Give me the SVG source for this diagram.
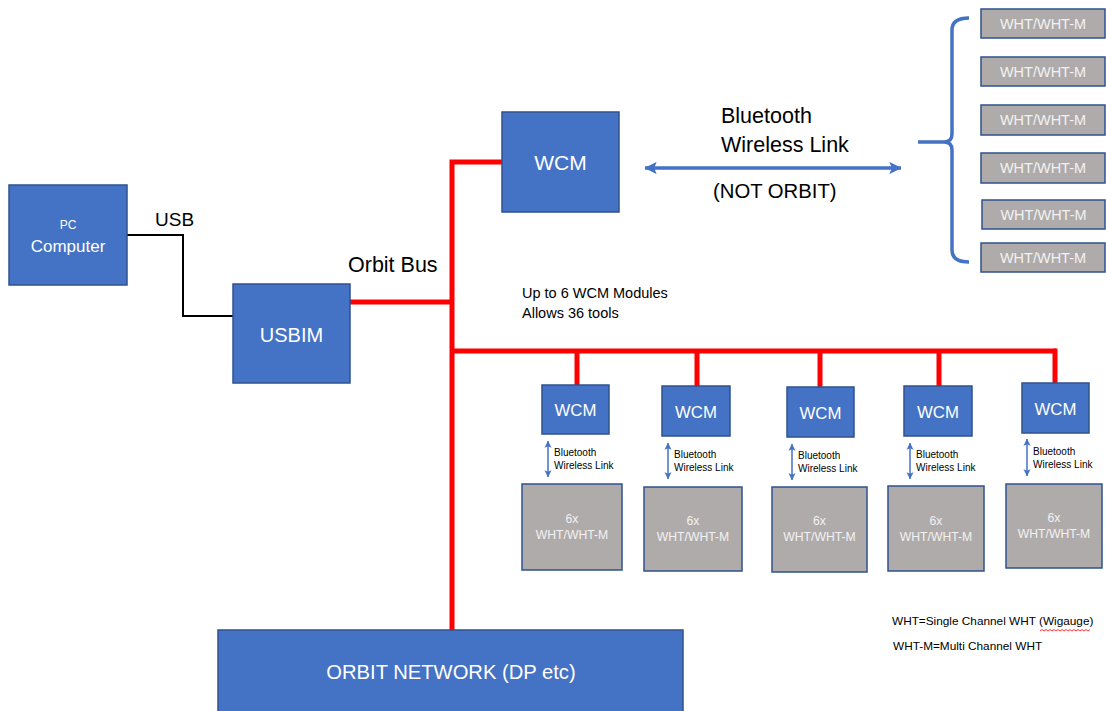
<svg xmlns="http://www.w3.org/2000/svg" width="1106" height="711" viewBox="0 0 1106 711">
<style>
text{font-family:"Liberation Sans",Arial,sans-serif}
.b{fill:#4472C4;stroke:#2F528F;stroke-width:1.5}
.g{fill:#AFABAB;stroke:#2F528F;stroke-width:1.5}
.wt{fill:#FFFFFF;text-anchor:middle}
.gt{fill:#F2F2F2;text-anchor:middle}
.k{fill:#000000}
.red{fill:none;stroke:#FF0000;stroke-width:5}
.bl{fill:none;stroke:#4472C4}
</style>
<defs>
<marker id="ah" viewBox="0 0 10 10" refX="9.5" refY="5" markerWidth="4.3" markerHeight="3.5" orient="auto-start-reverse" markerUnits="strokeWidth">
<path d="M0,0 L10,5 L0,10 L2,5 z" fill="#4472C4"/>
</marker>
<marker id="as" viewBox="0 0 10 10" refX="9.5" refY="5" markerWidth="5.3" markerHeight="4.7" orient="auto-start-reverse" markerUnits="strokeWidth">
<path d="M0,0 L10,5 L0,10 L2,5 z" fill="#4472C4"/>
</marker>
</defs>
<rect width="1106" height="711" fill="#FFFFFF"/>
<g id="connectors">
<polyline points="127,235 183,235 183,316 233,316" fill="none" stroke="#000" stroke-width="2"/>
<polyline class="red" points="350,302 452,302"/>
<polyline class="red" points="452,630 452,162 502,162"/>
<polyline class="red" points="452,351 1056,351"/>
<line class="red" x1="577" y1="351" x2="577" y2="385"/>
<line class="red" x1="697" y1="351" x2="697" y2="386"/>
<line class="red" x1="820" y1="351" x2="820" y2="387"/>
<line class="red" x1="939" y1="351" x2="939" y2="386"/>
<polyline class="red" points="1054,351 1055,351 1055,383"/>
<line class="bl" stroke-width="3.5" x1="645" y1="168" x2="901" y2="168" marker-start="url(#ah)" marker-end="url(#ah)"/>
<line class="bl" stroke-width="1.5" x1="548" y1="441" x2="548" y2="477" marker-start="url(#as)" marker-end="url(#as)"/>
<line class="bl" stroke-width="1.5" x1="668" y1="443" x2="668" y2="479" marker-start="url(#as)" marker-end="url(#as)"/>
<line class="bl" stroke-width="1.5" x1="792" y1="444" x2="792" y2="480" marker-start="url(#as)" marker-end="url(#as)"/>
<line class="bl" stroke-width="1.5" x1="910" y1="443" x2="910" y2="479" marker-start="url(#as)" marker-end="url(#as)"/>
<line class="bl" stroke-width="1.5" x1="1027" y1="439" x2="1027" y2="476" marker-start="url(#as)" marker-end="url(#as)"/>
<path class="bl" stroke-width="3.5" d="M969,18 Q952,18 952,30 L952,134 Q952,142 944,142 L918,142 M944,142 Q952,142 952,150 L952,250 Q952,262 969,262"/>
</g>
<g id="labels">
<text class="k" x="155" y="226" font-size="19">USB</text>
<text class="k" x="348" y="272" font-size="21.5">Orbit Bus</text>
<text class="k" x="721" y="123" font-size="21.5">Bluetooth</text>
<text class="k" x="721" y="152" font-size="21.5">Wireless Link</text>
<text class="k" x="713" y="198" font-size="20.3">(NOT ORBIT)</text>
<text class="k" x="522" y="298" font-size="14.5">Up to 6 WCM Modules</text>
<text class="k" x="522" y="318" font-size="14.5">Allows 36 tools</text>
<g font-size="10">
<text class="k" x="554" y="456">Bluetooth</text><text class="k" x="554" y="469">Wireless Link</text>
<text class="k" x="674" y="458">Bluetooth</text><text class="k" x="674" y="471">Wireless Link</text>
<text class="k" x="798" y="459">Bluetooth</text><text class="k" x="798" y="472">Wireless Link</text>
<text class="k" x="916" y="458">Bluetooth</text><text class="k" x="916" y="471">Wireless Link</text>
<text class="k" x="1033" y="455">Bluetooth</text><text class="k" x="1033" y="468">Wireless Link</text>
</g>
<text class="k" x="892" y="625" font-size="11.8">WHT=Single Channel WHT (Wigauge)</text>
<path d="M1040,631 l2,-1.5 l2,1.5 l2,-1.5 l2,1.5 l2,-1.5 l2,1.5 l2,-1.5 l2,1.5 l2,-1.5 l2,1.5 l2,-1.5 l2,1.5 l2,-1.5 l2,1.5 l2,-1.5 l2,1.5 l2,-1.5 l2,1.5 l2,-1.5 l2,1.5 l2,-1.5 l2,1.5 l2,-1.5 l2,1.5 l2,-1.5" fill="none" stroke="#FF0000" stroke-width="0.8"/>
<text class="k" x="893" y="650" font-size="11.8">WHT-M=Multi Channel WHT</text>
</g>
<g id="pc"><rect class="b" x="9" y="185" width="118" height="100"/>
<text class="wt" x="68" y="229" font-size="12">PC</text>
<text class="wt" x="68" y="252" font-size="17">Computer</text></g>
<g id="usbim"><rect class="b" x="233" y="284" width="117" height="99"/>
<text class="wt" x="291.5" y="342" font-size="20">USBIM</text></g>
<g id="wcm-top"><rect class="b" x="502" y="112" width="117" height="100"/>
<text class="wt" x="560.5" y="170" font-size="21">WCM</text></g>
<g id="orbit-network"><rect class="b" x="218" y="630" width="465" height="82"/>
<text class="wt" x="451" y="679" font-size="20.2">ORBIT NETWORK (DP etc)</text></g>
<g id="wht-list" font-size="14.5">
<g id="wht1"><rect class="g" x="981" y="9" width="124" height="29"/><text class="gt" x="1043" y="29">WHT/WHT-M</text></g>
<g id="wht2"><rect class="g" x="981" y="57" width="124" height="29"/><text class="gt" x="1043" y="77">WHT/WHT-M</text></g>
<g id="wht3"><rect class="g" x="981" y="105" width="124" height="30"/><text class="gt" x="1043" y="125">WHT/WHT-M</text></g>
<g id="wht4"><rect class="g" x="981" y="153" width="124" height="30"/><text class="gt" x="1043" y="173">WHT/WHT-M</text></g>
<g id="wht5"><rect class="g" x="982" y="200" width="123" height="29"/><text class="gt" x="1043.5" y="220">WHT/WHT-M</text></g>
<g id="wht6"><rect class="g" x="981" y="243" width="124" height="29"/><text class="gt" x="1043" y="263">WHT/WHT-M</text></g>
</g>
<g id="wcm1"><rect class="b" x="542" y="385" width="67" height="49"/><text class="wt" x="575.5" y="416" font-size="16.8">WCM</text></g>
<g id="wcm2"><rect class="b" x="662" y="386" width="68" height="50"/><text class="wt" x="696" y="418" font-size="16.8">WCM</text></g>
<g id="wcm3"><rect class="b" x="787" y="387" width="67" height="50"/><text class="wt" x="820.5" y="419" font-size="16.8">WCM</text></g>
<g id="wcm4"><rect class="b" x="904" y="386" width="68" height="50"/><text class="wt" x="938" y="418" font-size="16.8">WCM</text></g>
<g id="wcm5"><rect class="b" x="1022" y="383" width="67" height="50"/><text class="wt" x="1055.5" y="415" font-size="16.8">WCM</text></g>
<g id="grp1"><rect class="g" x="522" y="484" width="100" height="86"/><text class="gt" x="572" y="523" font-size="12.2">6x</text><text class="gt" x="572" y="539" font-size="12.2">WHT/WHT-M</text></g>
<g id="grp2"><rect class="g" x="644" y="487" width="98" height="84"/><text class="gt" x="693" y="525" font-size="12.2">6x</text><text class="gt" x="693" y="541" font-size="12.2">WHT/WHT-M</text></g>
<g id="grp3"><rect class="g" x="772" y="487" width="95" height="85"/><text class="gt" x="819.5" y="525" font-size="12.2">6x</text><text class="gt" x="819.5" y="541" font-size="12.2">WHT/WHT-M</text></g>
<g id="grp4"><rect class="g" x="888" y="486" width="96" height="85"/><text class="gt" x="936" y="525" font-size="12.2">6x</text><text class="gt" x="936" y="541" font-size="12.2">WHT/WHT-M</text></g>
<g id="grp5"><rect class="g" x="1006" y="484" width="96" height="84"/><text class="gt" x="1054" y="522" font-size="12.2">6x</text><text class="gt" x="1054" y="538" font-size="12.2">WHT/WHT-M</text></g>
</svg>
